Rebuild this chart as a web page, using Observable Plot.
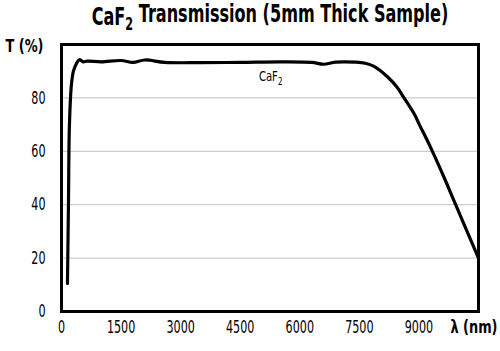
<!DOCTYPE html>
<html>
<head>
<meta charset="utf-8">
<script src="https://cdn.jsdelivr.net/npm/d3@7"></script>
<script src="https://cdn.jsdelivr.net/npm/@observablehq/plot@0.6"></script>
<style>
  html, body { margin: 0; padding: 0; background: #fff; }
  svg { display: block; }
</style>
</head>
<body>
<div id="chart"></div>
<script>
const wavelength = [150, 175, 200, 250, 300, 380, 450, 550, 650, 1000, 1500, 1800, 2100, 2600, 3500, 4500, 5500, 6300, 6600, 6900, 7400, 7650, 7870, 8200, 8450, 8625, 8900, 9010, 9180, 9340, 9640, 9925, 10500];
const transmission = [10.5, 40, 70, 85, 90, 93, 94.3, 93.5, 93.8, 93.5, 94, 93.3, 94.2, 93.3, 93.2, 93.3, 93.5, 93.3, 92.6, 93.4, 93.4, 93, 91.8, 88, 84, 80, 73.5, 70, 65, 60, 50, 40, 20];
const xTicks = [0, 1500, 3000, 4500, 6000, 7500, 9000];
const yTicks = [0, 20, 40, 60, 80];
const gridValues = [20, 40, 60, 80];
const titleText = "CaF₂ Transmission (5mm Thick Sample)";
const seriesLabel = "CaF₂";
const xLabel = "λ (nm)";
const yLabel = "T (%)";

const data = wavelength.map((w, i) => ({w, t: transmission[i]}));
const font = "'DejaVu Sans', sans-serif";

const chart = Plot.plot({
  width: 500,
  height: 351,
  marginLeft: 61,
  marginRight: 22,
  marginTop: 44,
  marginBottom: 40,
  style: {fontFamily: font, fontSize: "18px", color: "#000", background: "#fff"},
  x: {domain: [0, 10500], ticks: xTicks, tickSize: 0, tickPadding: 9, label: null, tickFormat: d => String(d)},
  y: {domain: [0, 100], ticks: yTicks, tickSize: 0, tickPadding: 16, label: null},
  marks: [
    Plot.ruleY(gridValues, {stroke: "#c0c0c0", strokeWidth: 1}),
    Plot.line(data, {x: "w", y: "t", stroke: "#000", strokeWidth: 3.2, curve: "catmull-rom"}),
    Plot.text([seriesLabel], {x: 5266, y: 89.9, lineAnchor: "top", fontSize: 14, fill: "#000"}),
    Plot.frame({stroke: "#000", strokeWidth: 3}),
    Plot.text([titleText], {frameAnchor: "top", lineAnchor: "top", dy: -37, fontSize: 24, fontWeight: "bold", fill: "#000"}),
    Plot.text([yLabel], {frameAnchor: "top-left", lineAnchor: "top", textAnchor: "start", dx: -56, dy: -4.5, fontSize: 17, fontWeight: "bold", fill: "#000"}),
    Plot.text([xLabel], {frameAnchor: "bottom-right", lineAnchor: "top", textAnchor: "end", dx: 19, dy: 9, fontSize: 17, fontWeight: "bold", fill: "#000"})
  ]
});

const svg = d3.select(chart);

// render subscript "₂" as a real subscript tspan
svg.selectAll("text").each(function() {
  const el = d3.select(this);
  const txt = this.textContent;
  if (!txt.includes("₂") || this.querySelector("tspan")) return;
  const parts = txt.split("₂");
  el.text(null);
  parts.forEach((p, i) => {
    const t = el.append("tspan").text(p);
    if (i > 0) t.attr("dy", "-0.35em");
    if (i < parts.length - 1) {
      el.append("tspan").attr("dy", "0.35em").attr("font-size", "0.7em").text("2");
    }
  });
});

// condensed look: compress each text horizontally around its anchor
svg.selectAll("text").each(function() {
  const txt = this.textContent;
  const parentLabel = (this.parentNode && this.parentNode.getAttribute("aria-label")) || "";
  let s = 0.62;
  if (txt.startsWith("CaF2 Transmission")) s = 0.67;
  else if (txt === "CaF2") s = 0.72;
  else if (txt === xLabel || txt === yLabel) s = 0.76;
  else if (parentLabel.includes("tick label")) s = 0.62;
  const tr = this.getAttribute("transform") || "";
  this.setAttribute("transform", (tr + " scale(" + s + ",1)").trim());
});

document.getElementById("chart").appendChild(chart);
</script>
</body>
</html>
